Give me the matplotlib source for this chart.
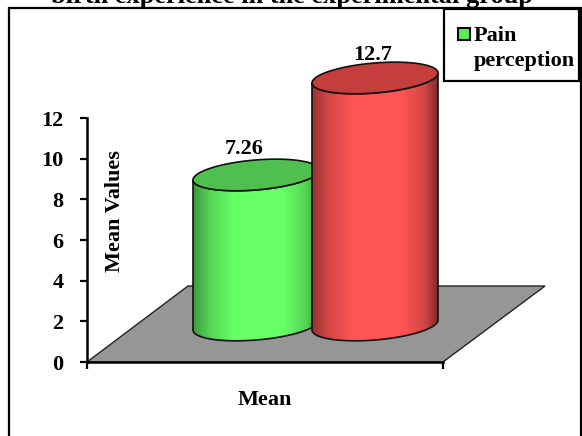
import numpy as np
import matplotlib
matplotlib.use('Agg')
import matplotlib.pyplot as plt
from matplotlib.patches import Polygon, Rectangle

categories = ['Mean']
series_names = ['Pain perception']
values = [7.26, 12.7]
value_labels = ['7.26', '12.7']
y_ticks = [0, 2, 4, 6, 8, 10, 12]
title_text = 'birth experience in the experimental group'

plt.rcParams['font.family'] = ['Liberation Serif']
plt.rcParams['font.weight'] = 'bold'

W, H = 582, 436
fig = plt.figure(figsize=(W / 100, H / 100), dpi=100)

# y axis runs from pixel 362 (0) to pixel 118 (12), x in pixels from the axis start
ax = fig.add_axes([87 / W, 1 - 362 / H, 356 / W, 244 / H])
ax.set_xlim(0, 356)
ax.set_ylim(0, 12)
ax.patch.set_alpha(0)
for s in ['top', 'right']:
    ax.spines[s].set_visible(False)
for s in ['left', 'bottom']:
    ax.spines[s].set_linewidth(1.8)
    ax.spines[s].set_zorder(6)
ax.set_yticks(y_ticks)
ax.set_xticks([0, 356])
ax.set_xticklabels(['', ''])
ax.tick_params(axis='y', direction='out', length=5, width=1.6, labelsize=16, pad=12)
ax.tick_params(axis='x', direction='out', length=5, width=1.6)


def px_y(p):
    return (362 - p) / 244 * 12


# floor of the 3d chart
floor = [(0, 0), (101, px_y(286)), (458, px_y(286)), (356, 0)]
ax.add_patch(Polygon(floor, closed=True, fc='#969696', ec='#222222', lw=1, clip_on=False, zorder=1))


def shade(base):
    # dark edges, bright middle, like the office cylinder gradient
    t = np.array([0, 0.12, 0.32, 0.72, 0.9, 1.0])
    k = np.array([0.6, 0.82, 1.0, 1.0, 0.82, 0.5])
    xs = np.linspace(0, 1, 128)
    ks = np.interp(xs, t, k)
    return np.clip(np.outer(ks, np.array(base)), 0, 1)[None, :, :]


def cylinder(x0, x1, top_px, bottom_px, side, cap, z):
    xm = (x0 + x1) / 2
    a = (x1 - x0) / 2
    th = np.linspace(0, 2 * np.pi, 200)
    tilt = -5  # px rise towards the right
    b = 15
    ex = xm + a * np.cos(th)
    ey_top = top_px + b * np.sin(th) + tilt * np.cos(th)

    # body outline: bottom rim from left to right, then top rim back
    idx = np.linspace(np.pi, 0, 100)
    bx = xm + a * np.cos(idx)
    by = bottom_px + b * np.sin(idx) + tilt * np.cos(idx)
    tx = xm + a * np.cos(idx[::-1])
    ty = top_px + b * np.sin(idx[::-1]) + tilt * np.cos(idx[::-1])
    pts = np.column_stack([np.r_[bx, tx], px_y(np.r_[by, ty])])
    ax.add_patch(Polygon(pts, closed=True, fc='none', ec='#111111', lw=1.2, zorder=z + 0.2, clip_on=False))
    im = ax.imshow(shade(side), extent=(x0, x1, px_y(bottom_px + 25), px_y(top_px - 25)),
                   aspect='auto', zorder=z, interpolation='bilinear')
    im.set_clip_path(Polygon(pts, closed=True, transform=ax.transData))
    im.set_clip_box(fig.bbox)
    ax.fill(ex, px_y(ey_top), fc=cap, ec='#111111', lw=1.2, zorder=z + 0.3, clip_on=False)
    ax.set_xlim(0, 356)
    ax.set_ylim(0, 12)


# bar heights come from the values, 3d projection squeezes them a bit
y_scale = 17.83
y_base = 304.4
bottom_px = 325


def top_of(v):
    return y_base - y_scale * v


cylinder(106, 232, top_of(values[0]), bottom_px, (0.40, 1.0, 0.40), '#4fc04f', 3)
cylinder(225, 351, top_of(values[1]), bottom_px, (1.0, 0.33, 0.33), '#c43e3e', 4)

ax.text(157, px_y(149), value_labels[0], ha='center', va='center', fontsize=16)
ax.text(286, px_y(55), value_labels[1], ha='center', va='center', fontsize=16, clip_on=False)

ax.text(178, px_y(400), categories[0], ha='center', va='center', fontsize=16, clip_on=False)
ax.text(28, px_y(211), 'Mean Values', rotation=90, ha='center', va='center', fontsize=16)

# outer chart border
fig.add_artist(Rectangle((9 / W, -2 / H), 572 / W, (H - 8 + 2) / H, transform=fig.transFigure,
                         fc='none', ec='black', lw=1.6))

# legend box drawn by hand to get the wrapped entry
fig.add_artist(Rectangle((444 / W, 1 - 81 / H), 135 / W, 72 / H, transform=fig.transFigure,
                         fc='white', ec='black', lw=1.6, zorder=5))
fig.add_artist(Rectangle((458 / W, 1 - 40 / H), 12 / W, 12 / H, transform=fig.transFigure,
                         fc='#55ee55', ec='black', lw=1.5, zorder=6))
lg = series_names[0].split(' ')
fig.text(474 / W, 1 - 36 / H, lg[0], fontsize=16, va='center', zorder=6)
fig.text(474 / W, 1 - 61 / H, lg[1], fontsize=16, va='center', zorder=6)

fig.text(292 / W, 1 - 3 / H, title_text, fontsize=19, ha='center', va='baseline')

fig.savefig('out.png', dpi=100)
